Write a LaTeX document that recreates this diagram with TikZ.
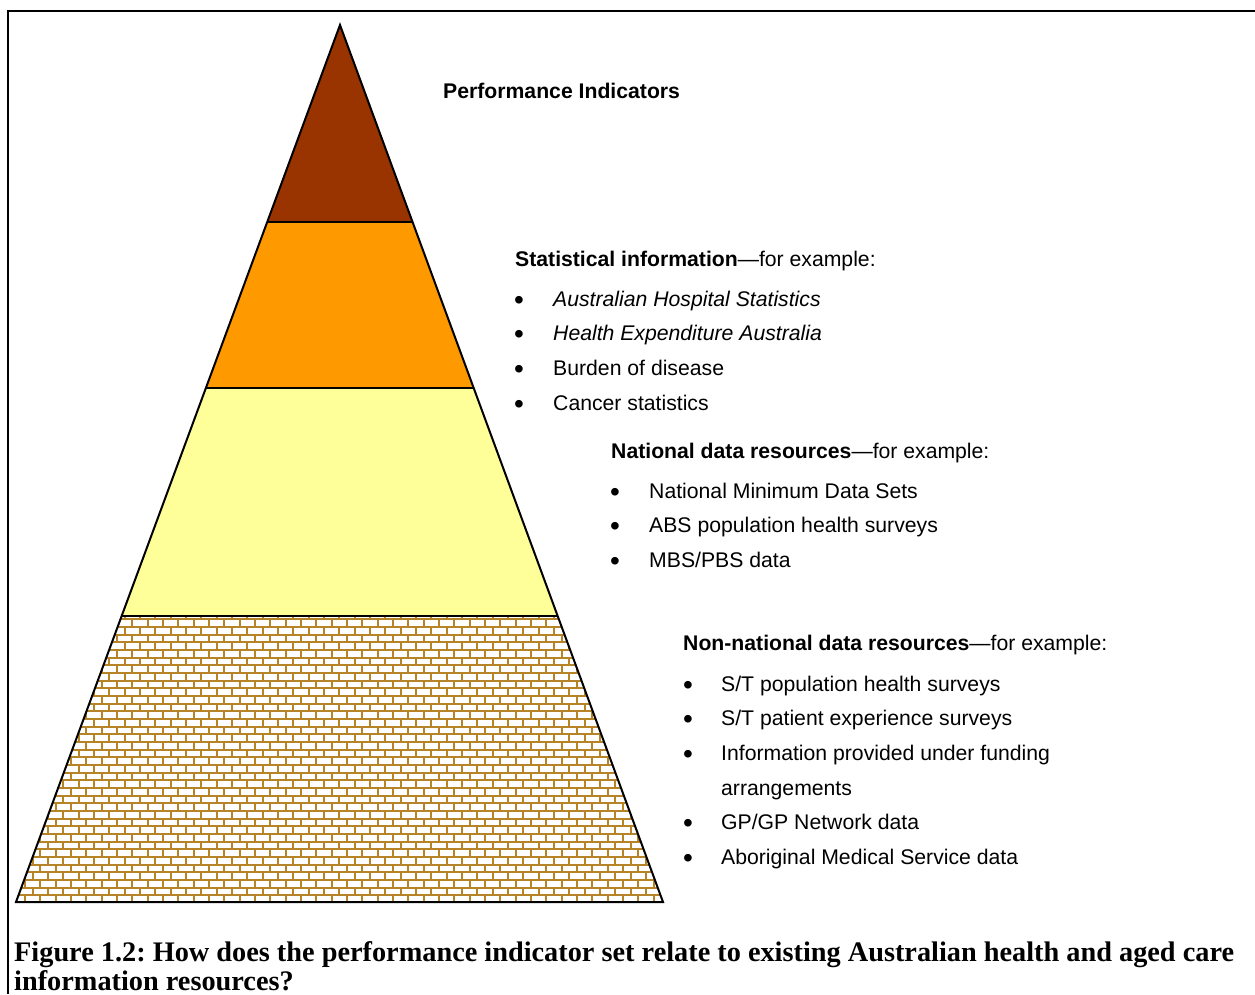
\documentclass[tikz,border=0pt]{standalone}
\usepackage{fontspec}
\setmainfont{Liberation Sans}
\newfontfamily\capfont{Liberation Serif}
\usetikzlibrary{calc}
\frenchspacing

\definecolor{apexbrown}{HTML}{993300}
\definecolor{tierorange}{HTML}{FF9900}
\definecolor{tieryellow}{HTML}{FFFF99}
\definecolor{mortar}{RGB}{182,132,38}

\begin{document}
\begin{tikzpicture}[x=1pt,y=-1pt,line join=miter]
\tikzset{
  outline/.style={draw=black,line width=2pt},
  heading/.style={anchor=base west,inner sep=0pt,font=\fontsize{21.2}{25}\selectfont\bfseries},
  item/.style={anchor=base west,inner sep=0pt,font=\fontsize{21.2}{25}\selectfont},
  bul/.style={anchor=base,inner sep=0pt,font=\fontsize{28}{30}\selectfont},
  caption/.style={anchor=base west,inner sep=0pt,font=\capfont\bfseries\fontsize{28.3}{31}\selectfont},
  mortarline/.style={draw=mortar,line width=2pt},
}
\useasboundingbox (0,0) rectangle (1255,994);

% frame
\draw[line width=2.3pt] (8,994) -- (8,11) -- (1255,11);

% pyramid corners and tier boundaries
\coordinate (A)  at (340,25);
\coordinate (BL) at (16,902);
\coordinate (BR) at (663,902);
\coordinate (L1) at ($(A)!0.2246!(BL)$);
\coordinate (R1) at ($(A)!0.2246!(BR)$);
\coordinate (L2) at ($(A)!0.4139!(BL)$);
\coordinate (R2) at ($(A)!0.4139!(BR)$);
\coordinate (L3) at ($(A)!0.6739!(BL)$);
\coordinate (R3) at ($(A)!0.6739!(BR)$);

% tier fills
\fill[apexbrown] (A) -- (R1) -- (L1) -- cycle;
\fill[tierorange] (L1) -- (R1) -- (R2) -- (L2) -- cycle;
\fill[tieryellow] (L2) -- (R2) -- (R3) -- (L3) -- cycle;
\fill[white] (L3) -- (R3) -- (BR) -- (BL) -- cycle;

% brick pattern in the base tier
\begin{scope}
  \clip (L3) -- (R3) -- (BR) -- (BL) -- cycle;
  \foreach \j in {-1,...,37} {
    \pgfmathsetmacro\ya{619.33+7.667*\j}
    \pgfmathsetmacro\yb{\ya+7.667}
    \pgfmathsetmacro\xo{9.67+7.667*mod(\j+2,2)}
    \draw[mortarline] (0,\ya) -- (700,\ya);
    \draw[mortarline] foreach \k in {-1,...,45} {
      ({\xo+15.333*\k},\ya) -- ({\xo+15.333*\k},\yb)
    };
  }
\end{scope}

% tier outlines
\draw[outline] (A) -- (BR) -- (BL) -- cycle;
\draw[outline] (L1) -- (R1);
\draw[outline] (L2) -- (R2);
\draw[outline] (L3) -- (R3);

% labels
\node[heading] (pi) at (443,98) {Performance Indicators};

\node[heading] (stat) at (515,266) {Statistical information\mdseries---for example:};
\node[bul] (sb1) at (519,309) {\textbullet};
\node[bul] (sb2) at (519,343) {\textbullet};
\node[bul] (sb3) at (519,378) {\textbullet};
\node[bul] (sb4) at (519,413) {\textbullet};
\node[item] (s1) at (553,306) {\itshape Australian Hospital Statistics};
\node[item] (s2) at (553,340) {\itshape Health Expenditure Australia};
\node[item] (s3) at (553,375) {Burden of disease};
\node[item] (s4) at (553,410) {Cancer statistics};

\node[heading] (nat) at (611,458) {National data resources\mdseries---for example:};
\node[bul] (nb1) at (615,501) {\textbullet};
\node[bul] (nb2) at (615,535) {\textbullet};
\node[bul] (nb3) at (615,570) {\textbullet};
\node[item] (n1) at (649,498) {National Minimum Data Sets};
\node[item] (n2) at (649,532) {ABS population health surveys};
\node[item] (n3) at (649,567) {MBS/PBS data};

\node[heading] (non) at (683,650) {Non-national data resources\mdseries---for example:};
\node[bul] (ob1) at (688,694) {\textbullet};
\node[bul] (ob2) at (688,728) {\textbullet};
\node[bul] (ob3) at (688,763) {\textbullet};
\node[bul] (ob4) at (688,832) {\textbullet};
\node[bul] (ob5) at (688,867) {\textbullet};
\node[item] (o1) at (721,691) {S/T population health surveys};
\node[item] (o2) at (721,725) {S/T patient experience surveys};
\node[item] (o3) at (721,760) {Information provided under funding};
\node[item] (o3b) at (721,795) {arrangements};
\node[item] (o4) at (721,829) {GP/GP Network data};
\node[item] (o5) at (721,864) {Aboriginal Medical Service data};

% caption
\node[caption] (cap1) at (14,961) {Figure 1.2: How does the performance indicator set relate to existing Australian health and aged care};
\node[caption] (cap2) at (14,990) {information resources?};
\end{tikzpicture}
\end{document}
